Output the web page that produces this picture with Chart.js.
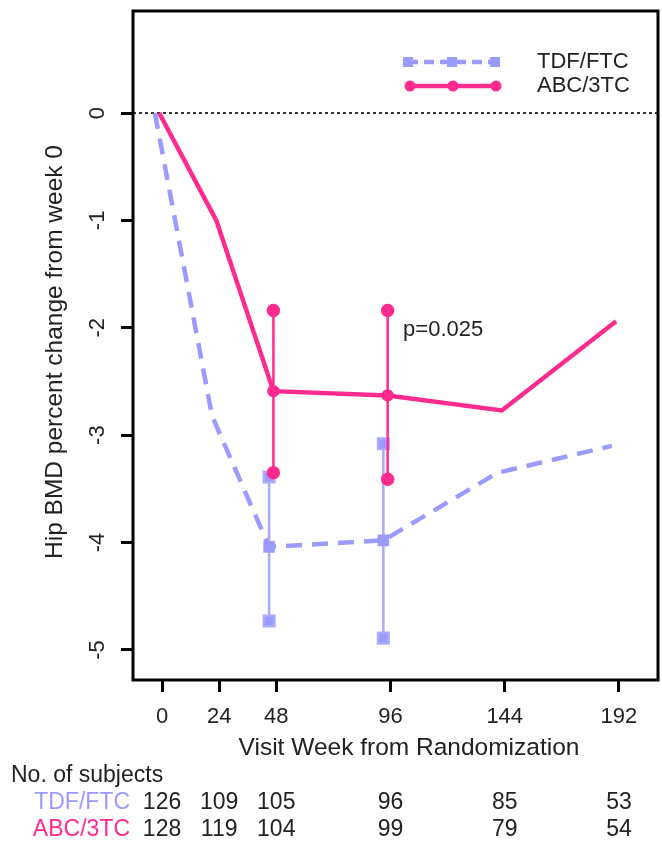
<!DOCTYPE html>
<html>

<head>
    <title>Hip BMD change</title>
    <script src="https://cdn.jsdelivr.net/npm/chart.js"></script>
    <style>
        html, body { margin: 0; padding: 0; background: #fff; }
        .chart-container { width: 662px; height: 842px; }
    </style>
</head>

<body>
    <div class="chart-container">
        <canvas id="chart1"></canvas>
    </div>

    <script>
        const weeks = [0, 24, 48, 96, 144, 192];
        const tdfMean = [0, -2.82, -4.04, -3.98, -3.35, -3.1];
        const abcMean = [0, -1.0, -2.59, -2.63, -2.77, -1.94];

        const errWeeks = [48, 96];
        const tdfUpper = [-3.39, -3.08];
        const tdfLower = [-4.73, -4.89];
        const abcUpper = [-1.84, -1.84];
        const abcLower = [-3.35, -3.41];

        const tdfN = [126, 109, 105, 96, 85, 53];
        const abcN = [128, 119, 104, 99, 79, 54];
        const yTicks = [-5, -4, -3, -2, -1, 0];

        const TDF = '#9b9bff';
        const ABC = '#ff2b8e';
        const TXT = '#222';
        const FONT = '"Liberation Sans", Arial, sans-serif';

        // small horizontal dodge so the two groups don't sit on top of each other
        const tdfShift = -3;
        const abcShift = -1.2;

        function pts(xs, ys, shift) {
            return xs.map((w, i) => ({ x: w + shift, y: ys[i] }));
        }

        const datasets = [];
        datasets.push({
            label: 'ABC/3TC',
            data: pts(weeks, abcMean, abcShift),
            borderColor: ABC,
            backgroundColor: ABC,
            borderWidth: 4.5,
            pointRadius: weeks.map(w => errWeeks.includes(w) ? 4 : 0),
            pointStyle: 'circle',
            tension: 0
        });
        errWeeks.forEach((w, i) => {
            datasets.push({
                label: 'abc-err',
                data: [{ x: w + abcShift, y: abcUpper[i] }, { x: w + abcShift, y: abcLower[i] }],
                borderColor: ABC,
                backgroundColor: ABC,
                borderWidth: 2.5,
                pointRadius: 5.5,
                pointStyle: 'circle'
            });
        });
        datasets.push({
            label: 'TDF/FTC',
            data: pts(weeks, tdfMean, tdfShift),
            borderColor: TDF,
            backgroundColor: TDF,
            borderWidth: 4.5,
            borderDash: [16, 10],
            pointRadius: weeks.map(w => errWeeks.includes(w) ? 5 : 0),
            pointStyle: 'rect',
            tension: 0
        });
        errWeeks.forEach((w, i) => {
            datasets.push({
                label: 'tdf-err',
                data: [{ x: w + tdfShift, y: tdfUpper[i] }, { x: w + tdfShift, y: tdfLower[i] }],
                borderColor: '#aaaaff',
                backgroundColor: TDF,
                borderWidth: 2.5,
                pointRadius: 7.5,
                pointStyle: 'rect'
            });
        });

        const decor = {
            id: 'decor',
            beforeDatasetsDraw(chart) {
                const { ctx, chartArea: a, scales: { y } } = chart;
                ctx.save();
                ctx.strokeStyle = '#333';
                ctx.lineWidth = 2;
                ctx.setLineDash([3, 3]);
                const y0 = y.getPixelForValue(0);
                ctx.beginPath();
                ctx.moveTo(a.left, y0);
                ctx.lineTo(a.right, y0);
                ctx.stroke();
                ctx.restore();
            },
            afterDraw(chart) {
                const { ctx, chartArea: a, scales: { x, y } } = chart;
                ctx.save();

                // frame
                ctx.strokeStyle = '#000';
                ctx.lineWidth = 3;
                ctx.strokeRect(a.left, a.top, a.right - a.left, a.bottom - a.top);

                ctx.fillStyle = TXT;
                ctx.font = '22px ' + FONT;
                ctx.textAlign = 'center';
                ctx.textBaseline = 'middle';

                // rotated y tick labels
                yTicks.forEach(v => {
                    ctx.save();
                    ctx.translate(98, y.getPixelForValue(v));
                    ctx.rotate(-Math.PI / 2);
                    ctx.fillText(String(v), 0, 0);
                    ctx.restore();
                });

                // y title
                ctx.font = '24.5px ' + FONT;
                ctx.save();
                ctx.translate(55, 352);
                ctx.rotate(-Math.PI / 2);
                ctx.fillText('Hip BMD percent change from week 0', 0, 0);
                ctx.restore();

                // x title
                ctx.fillText('Visit Week from Randomization', 409, 748);

                // p value
                ctx.font = '22px ' + FONT;
                ctx.textAlign = 'left';
                ctx.fillText('p=0.025', x.getPixelForValue(101.3), y.getPixelForValue(-2.02));

                // legend
                ctx.strokeStyle = TDF;
                ctx.fillStyle = TDF;
                ctx.lineWidth = 4.5;
                ctx.setLineDash([10, 6]);
                ctx.beginPath();
                ctx.moveTo(408, 62);
                ctx.lineTo(495, 62);
                ctx.stroke();
                ctx.setLineDash([]);
                [408, 452, 495].forEach(px => ctx.fillRect(px - 5, 62 - 5, 10, 10));

                ctx.strokeStyle = ABC;
                ctx.fillStyle = ABC;
                ctx.beginPath();
                ctx.moveTo(410, 86);
                ctx.lineTo(496, 86);
                ctx.stroke();
                [410, 453, 496].forEach(px => {
                    ctx.beginPath();
                    ctx.arc(px, 86, 5.5, 0, Math.PI * 2);
                    ctx.fill();
                });

                ctx.fillStyle = TXT;
                ctx.fillText('TDF/FTC', 537, 62);
                ctx.fillText('ABC/3TC', 537, 86);

                // subjects table
                ctx.font = '23px ' + FONT;
                ctx.fillText('No. of subjects', 11, 776);
                ctx.textAlign = 'right';
                ctx.fillStyle = TDF;
                ctx.fillText('TDF/FTC', 130, 803);
                ctx.fillStyle = ABC;
                ctx.fillText('ABC/3TC', 130, 830);
                ctx.textAlign = 'center';
                ctx.fillStyle = TXT;
                weeks.forEach((w, i) => {
                    ctx.fillText(String(tdfN[i]), x.getPixelForValue(w), 803);
                    ctx.fillText(String(abcN[i]), x.getPixelForValue(w), 830);
                });

                ctx.restore();
            }
        };

        new Chart(document.getElementById('chart1'), {
            type: 'line',
            data: { datasets: datasets },
            options: {
                responsive: true,
                maintainAspectRatio: false,
                animation: false,
                layout: { autoPadding: false, padding: { left: 0, top: 11, right: 4, bottom: 0 } },
                plugins: {
                    legend: { display: false },
                    tooltip: { enabled: false }
                },
                scales: {
                    x: {
                        type: 'linear',
                        min: -12.2,
                        max: 208.4,
                        afterBuildTicks: s => { s.ticks = weeks.map(v => ({ value: v })); },
                        afterFit: s => {
                            s.height = 162;
                            s.paddingLeft = 0;
                            s.paddingRight = 0;
                        },
                        border: { display: false },
                        grid: {
                            drawOnChartArea: false,
                            drawTicks: true,
                            tickLength: 12,
                            tickWidth: 3,
                            tickColor: '#000'
                        },
                        ticks: {
                            autoSkip: false,
                            maxRotation: 0,
                            padding: 12,
                            color: TXT,
                            font: { family: FONT, size: 22 }
                        }
                    },
                    y: {
                        min: -5.28,
                        max: 0.95,
                        afterBuildTicks: s => { s.ticks = yTicks.map(v => ({ value: v })); },
                        afterFit: s => {
                            s.width = 133;
                            s.paddingTop = 0;
                            s.paddingBottom = 0;
                        },
                        border: { display: false },
                        grid: {
                            drawOnChartArea: false,
                            drawTicks: true,
                            tickLength: 12,
                            tickWidth: 3,
                            tickColor: '#000'
                        },
                        ticks: {
                            color: 'transparent',
                            font: { family: FONT, size: 22 }
                        }
                    }
                }
            },
            plugins: [decor]
        });
    </script>
</body>

</html>
